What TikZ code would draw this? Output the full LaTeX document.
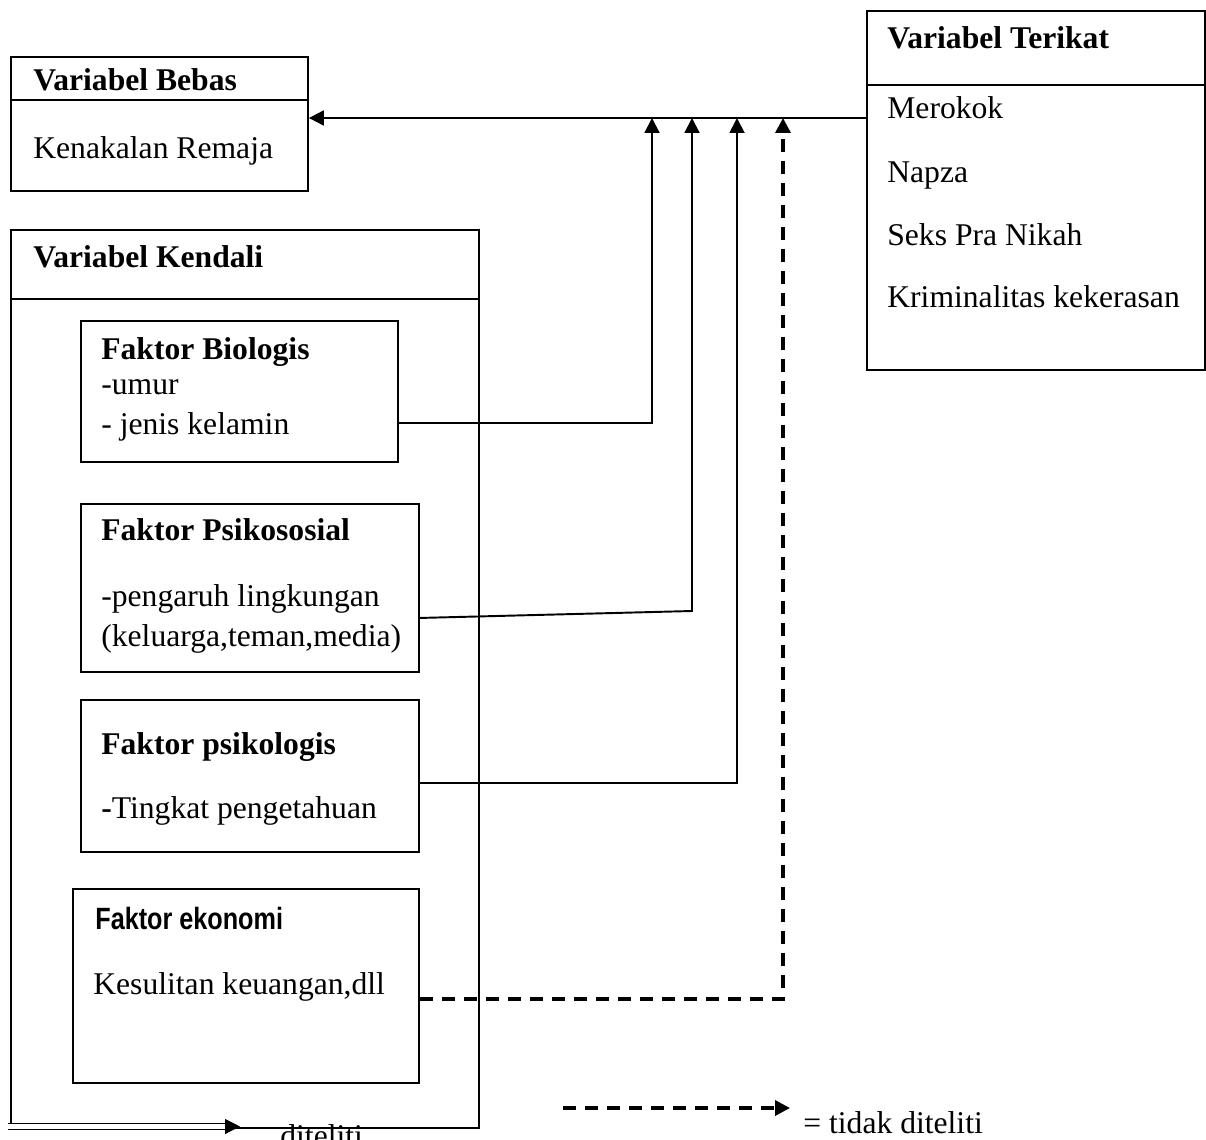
\documentclass[tikz,border=0pt]{standalone}
\usepackage{fontspec}
\setmainfont{Liberation Serif}
\newfontfamily\narrowsf[FakeStretch=0.82]{Liberation Sans}
\usetikzlibrary{arrows.meta}

\begin{document}
\begin{tikzpicture}[
  x=0.02cm,y=-0.02cm,
  box/.style={draw,line width=1.1pt,anchor=north west,inner sep=0pt},
  txt/.style={anchor=base west,inner sep=0pt,font=\fontsize{18}{22}\selectfont},
  ttl/.style={anchor=base west,inner sep=0pt,font=\fontsize{18}{22}\selectfont\bfseries},
  link/.style={line width=1.1pt},
  dashlink/.style={line width=1.9pt,dash pattern=on 0.26cm off 0.18cm},
  >={Triangle[length=3mm,width=3mm]}]
  \useasboundingbox (0,0) rectangle (1206,1139);
  % boxes
  \node[box,minimum width=5.94cm,minimum height=2.68cm] (bebas)   at (10,56)  {};
  \node[box,minimum width=6.76cm,minimum height=7.18cm] (terikat) at (866,10) {};
  \node[box,minimum width=9.36cm,minimum height=17.96cm] (kendali) at (10,229) {};
  \node[box,minimum width=6.34cm,minimum height=2.82cm] (bio)  at (80,320) {};
  \node[box,minimum width=6.76cm,minimum height=3.36cm] (psos) at (80,503) {};
  \node[box,minimum width=6.76cm,minimum height=3.04cm] (psik) at (80,699) {};
  \node[box,minimum width=6.92cm,minimum height=3.88cm] (eko)  at (72,888) {};
  \draw[link] (bebas.west |- 0,100) -- (bebas.east |- 0,100);
  \draw[link] (terikat.west |- 0,85) -- (terikat.east |- 0,85);
  \draw[link] (kendali.west |- 0,299) -- (kendali.east |- 0,299);
  % texts
  \node[ttl] (tbebas) at (33,90) {Variabel Bebas};
  \node[txt] (kenakalan) at (33,158) {Kenakalan Remaja};
  \node[ttl] (tterikat) at (887,48) {Variabel Terikat};
  \node[txt] (merokok) at (887,118) {Merokok};
  \node[txt] (napza) at (887,182) {Napza};
  \node[txt] (seks) at (887,245) {Seks Pra Nikah};
  \node[txt] (krim) at (887,307) {Kriminalitas kekerasan};
  \node[ttl] (tkendali) at (33,267) {Variabel Kendali};
  \node[ttl] (tbio) at (101,359) {Faktor Biologis};
  \node[txt] (umur) at (101,394) {-umur};
  \node[txt] (jenis) at (101,434) {- jenis kelamin};
  \node[ttl] (tpsos) at (101,540) {Faktor Psikososial};
  \node[txt] (pengaruh) at (101,606) {-pengaruh lingkungan};
  \node[txt] (keluarga) at (101,646) {(keluarga,teman,media)};
  \node[ttl] (tpsik) at (101,754) {Faktor psikologis};
  \node[txt] (tingkat) at (101,818) {{\bfseries -}Tingkat pengetahuan};
  \node[anchor=base west,inner sep=0pt,font=\fontsize{17.5}{20}\narrowsf\bfseries] (teko) at (95,929) {Faktor ekonomi};
  \node[txt] (kesulitan) at (93,994) {Kesulitan keuangan,dll};
  % connectors
  \coordinate (jn) at (866,118);
  \coordinate (t1) at (652,423);
  \coordinate (t2) at (692,611);
  \coordinate (t3) at (737,783);
  \coordinate (t4) at (783,999);
  \draw[link,->] (jn) -- (bebas.east |- jn);
  \draw[link,->] (bio.east |- t1) -- (t1) -- (t1 |- jn);
  \draw[link,->] (psos.east) ++(0,30) -- (t2) -- (t2 |- jn);
  \draw[link,->] (psik.east |- t3) -- (t3) -- (t3 |- jn);
  \draw[dashlink,->] (eko.east |- t4) -- (t4) -- (t4 |- jn);
  % legend
  \coordinate (l1) at (8,1126.5);
  \coordinate (l2) at (225,1126.5);
  \coordinate (l3) at (240,1126.5);
  \draw[line width=0.6pt,double,double distance=2.6pt] (l1) -- (l2);
  \draw[line width=0.6pt,->] (l2) -- (l3);
  \node[txt] (diteliti) at (280,1146) {diteliti};
  \coordinate (d1) at (563,1108);
  \coordinate (d2) at (790,1108);
  \draw[dashlink,->] (d1) -- (d2);
  \node[txt] (tidak) at (803,1133) {= tidak diteliti};
\end{tikzpicture}
\end{document}
